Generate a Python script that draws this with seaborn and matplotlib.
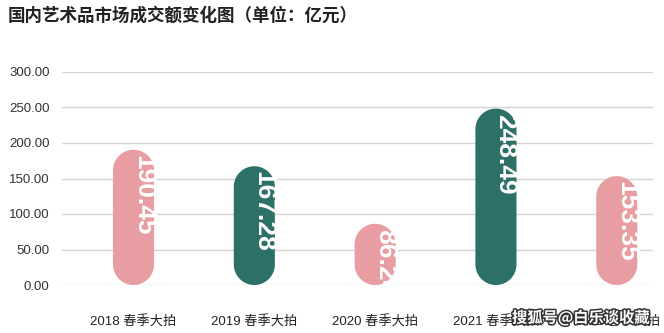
import matplotlib
matplotlib.use("Agg")
import matplotlib.pyplot as plt
import matplotlib.patheffects as pe
from matplotlib.patches import Polygon
import numpy as np
import seaborn as sns
import pandas as pd

# Data
categories = ["2018 春季大拍", "2019 春季大拍", "2020 春季大拍", "2021 春季大拍", "2022 春季大拍"]
values = [190.45, 167.28, 86.24, 248.49, 153.35]
y_ticks = [0, 50, 100, 150, 200, 250, 300]
bar_colors = ["#E89DA2", "#2D7068", "#E89DA2", "#2D7068", "#E89DA2"]

title = "国内艺术品市场成交额变化图（单位：亿元）"
watermark = "搜狐号@白乐谈收藏"

sns.set_theme(style="white")
plt.rcParams["font.family"] = ["Liberation Sans", "Noto Sans CJK SC", "DejaVu Sans"]

df = pd.DataFrame({"cat": categories, "val": values})

fig = plt.figure(figsize=(6.64, 3.33), dpi=100)
ax = fig.add_axes([62 / 664, 48 / 333, 591 / 664, 213 / 333])

sns.barplot(data=df, x="cat", y="val", hue="cat", palette=bar_colors,
            saturation=1, width=0.34, legend=False, ax=ax, zorder=3)

ax.set_xlim(-0.592, 4.30)
ax.set_ylim(0, 300)
ax.set_yticks(y_ticks)
ax.set_yticklabels([f"{t:.2f}" for t in y_ticks], fontsize=9.5, color="#333333")
ax.tick_params(axis="y", length=0, pad=9)
ax.tick_params(axis="x", length=0, pad=22, labelsize=9.5, labelcolor="#222222")
ax.set_xlabel("")
ax.set_ylabel("")
ax.yaxis.grid(True, color="#d4d4d4", linewidth=1)
ax.set_axisbelow(True)
for s in ax.spines.values():
    s.set_visible(False)

# data units per pixel in each direction
fig.canvas.draw()
bbox = ax.get_window_extent()
x0, x1 = ax.get_xlim()
y0, y1 = ax.get_ylim()
xpp = (x1 - x0) / bbox.width
ypp = (y1 - y0) / bbox.height


def capsule(x, w, h):
    """Outline of a bar from 0 to h with semicircular ends."""
    rx = w / 2
    ry = min(rx * ypp / xpp, h / 2)
    cx = x + rx
    t_top = np.linspace(0, np.pi, 40)
    t_bot = np.linspace(np.pi, 2 * np.pi, 40)
    top = np.column_stack([cx + rx * np.cos(t_top), h - ry + ry * np.sin(t_top)])
    bot = np.column_stack([cx + rx * np.cos(t_bot), ry + ry * np.sin(t_bot)])
    return np.vstack([top, bot])


# swap plain rectangles for capsule-shaped bars
for patch in list(ax.patches):
    x, w, h = patch.get_x(), patch.get_width(), patch.get_height()
    color = patch.get_facecolor()
    patch.remove()
    ax.add_patch(Polygon(capsule(x, w, h), closed=True, facecolor=color,
                         edgecolor="none", zorder=3))

# value labels running down each bar
for i, v in enumerate(values):
    ax.text(i + 9.5 * xpp, v - 5 * ypp, f"{v:.2f}", rotation=-90,
            ha="center", va="top", color="white", fontsize=19,
            fontweight="bold", zorder=4, family=["Liberation Sans", "DejaVu Sans"])

fig.text(8 / 664, 1 - 16 / 333, title, ha="left", va="center", fontsize=12.6,
         fontweight="bold", color="#222222",
         family=["Noto Sans CJK SC", "DejaVu Sans"])

fig.text(512 / 664, 1 - 318 / 333, watermark, ha="left", va="center",
         fontsize=11, fontweight="bold", color="white",
         family=["Noto Sans CJK SC", "DejaVu Sans"],
         path_effects=[pe.withStroke(linewidth=2.2, foreground="#333333")])

fig.savefig("out.png", dpi=100)
